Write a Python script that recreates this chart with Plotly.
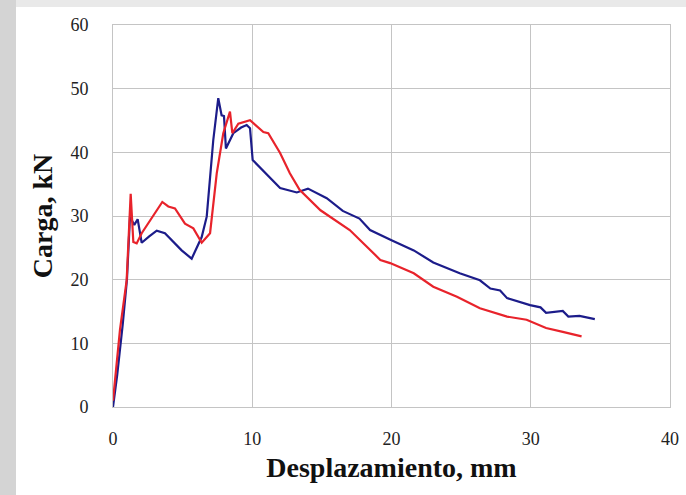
import plotly.graph_objects as go

# Blue specimen
blue_x = [0.0, 0.3, 0.7, 1.0, 1.22, 1.53, 1.77, 2.06, 2.6, 3.14, 3.73, 4.3, 4.93, 5.65, 6.0, 6.37, 6.73, 7.2, 7.56,
          7.8, 7.97, 8.11, 8.64, 9.2, 9.6, 9.84, 10.03, 11.0, 12.0, 13.2, 14.0, 15.35, 16.5, 17.7, 18.46, 20.0,
          21.6, 23.0, 24.9, 26.35, 27.1, 27.8, 28.3, 29.95, 30.7, 31.1, 32.3, 32.7, 33.5, 34.6]
blue_y = [0.0, 5.0, 13.0, 20.0, 29.9, 28.6, 29.5, 25.8, 26.8, 27.7, 27.3, 26.0, 24.6, 23.3, 25.0, 26.7, 29.9, 41.9, 48.5,
          45.8, 45.7, 40.6, 43.0, 43.9, 44.3, 43.8, 38.8, 36.6, 34.4, 33.7, 34.3, 32.8, 30.8, 29.6, 27.8, 26.2,
          24.6, 22.7, 21.0, 19.9, 18.6, 18.3, 17.1, 16.0, 15.65, 14.8, 15.1, 14.2, 14.3, 13.8]

# Red specimen
red_x = [0.0, 0.5, 0.98, 1.27, 1.46, 1.7, 2.06, 3.0, 3.54, 3.97, 4.45, 5.17, 5.77, 6.37, 6.97, 7.45, 7.92, 8.4,
         8.57, 9.0, 9.84, 10.8, 11.15, 12.0, 12.7, 13.4, 14.4, 14.9, 17.0, 19.2, 19.9, 21.6, 23.0, 24.7, 26.35,
         28.3, 29.7, 31.1, 32.3, 33.65]
red_y = [1.0, 12.1, 19.9, 33.5, 25.9, 25.7, 27.3, 30.4, 32.2, 31.5, 31.2, 28.8, 28.05, 25.8, 27.3, 36.7, 43.0, 46.4,
         43.0, 44.5, 45.05, 43.2, 43.0, 39.9, 36.7, 34.1, 32.0, 30.9, 27.8, 23.1, 22.6, 21.0, 18.9, 17.3, 15.5,
         14.2, 13.7, 12.4, 11.8, 11.1]

x_ticks = [0, 10, 20, 30, 40]
y_ticks = [0, 10, 20, 30, 40, 50, 60]

fig = go.Figure()
fig.add_trace(go.Scatter(x=blue_x, y=blue_y, mode="lines",
                         line=dict(color="#1c1c8a", width=2.2), showlegend=False))
fig.add_trace(go.Scatter(x=red_x, y=red_y, mode="lines",
                         line=dict(color="#e8232b", width=2.2), showlegend=False))

W, H = 686, 495
L, R, T, B = 113, 16, 25, 88
pw, ph = W - L - R, H - T - B

def px(x):
    return (x - L) / pw

def py(y):
    return (H - B - y) / ph

fig.update_layout(
    width=W, height=H,
    autosize=False,
    margin=dict(l=L, r=R, t=T, b=B, pad=0, autoexpand=False),
    paper_bgcolor="#e9e9e9",
    plot_bgcolor="white",
    font=dict(family="Liberation Serif", color="#222222"),
    shapes=[
        dict(type="rect", xref="paper", yref="paper", x0=px(0), x1=px(16), y0=py(H), y1=py(0),
             fillcolor="#d4d4d4", line=dict(width=0), layer="below"),
        dict(type="rect", xref="paper", yref="paper", x0=px(16), x1=px(W), y0=py(H), y1=py(7),
             fillcolor="white", line=dict(width=0), layer="below"),
    ],
    xaxis=dict(range=[0, 40], tickvals=x_ticks, showgrid=True, gridcolor="#c4c4c4", gridwidth=1,
               showline=True, linecolor="#c4c4c4", mirror=True, zeroline=False, automargin=False,
               ticks="outside", ticklen=15, tickcolor="rgba(0,0,0,0)",
               tickfont=dict(size=18, family="Liberation Serif", color="#222222"),
               title=dict(text="<b>Desplazamiento, mm</b>", standoff=9,
                          font=dict(size=28, family="Liberation Serif", color="#111111"))),
    yaxis=dict(range=[0, 60], tickvals=y_ticks, showgrid=True, gridcolor="#c4c4c4", gridwidth=1,
               showline=True, linecolor="#c4c4c4", mirror=True, zeroline=False, automargin=False,
               ticks="outside", ticklen=20, tickcolor="rgba(0,0,0,0)",
               tickfont=dict(size=18, family="Liberation Serif", color="#222222"),
               title=dict(text="<b>Carga, kN</b>", standoff=9,
                          font=dict(size=28, family="Liberation Serif", color="#111111"))),
)

fig.write_html("out.html")
